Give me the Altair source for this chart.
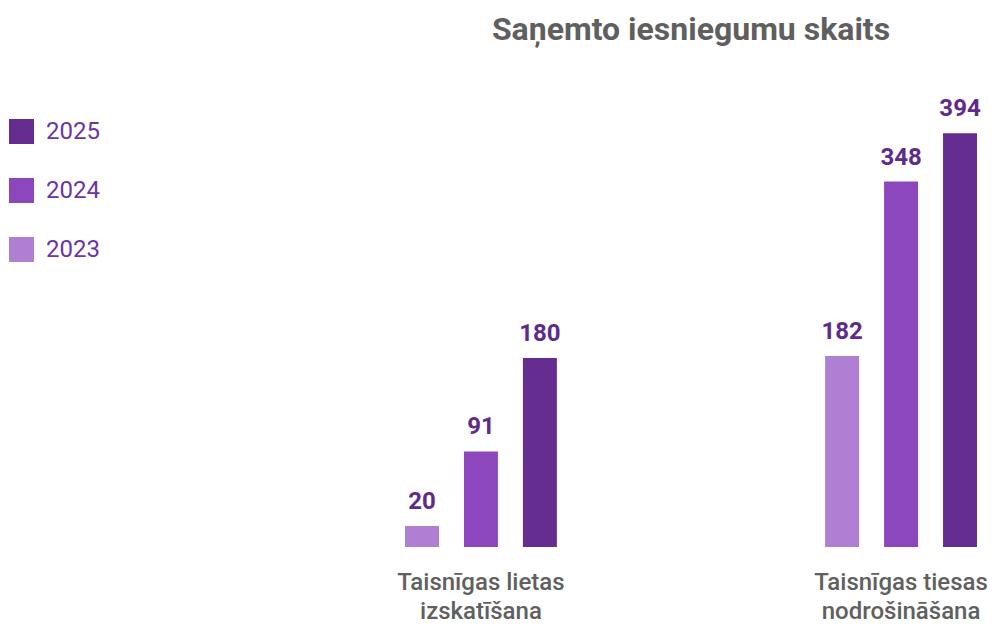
import altair as alt
import pandas as pd

categories = ["Taisnīgas lietas izskatīšana", "Taisnīgas tiesas nodrošināšana"]
category_labels = ["Taisnīgas lietas|izskatīšana", "Taisnīgas tiesas|nodrošināšana"]
years = ["2023", "2024", "2025"]
values_2023 = [20, 182]
values_2024 = [91, 348]
values_2025 = [180, 394]
colors = {"2023": "#ae7fd3", "2024": "#8b47bb", "2025": "#642d8f"}

rows = []
for yr, vals in zip(years, [values_2023, values_2024, values_2025]):
    for c, v in zip(categories, vals):
        rows.append({"category": c, "year": yr, "value": v})
df = pd.DataFrame(rows)
lab_df = pd.DataFrame({"category": categories, "label": category_labels})

FONT = "Roboto"
H = 420

x_enc = alt.X("category:N", sort=categories,
              scale=alt.Scale(paddingInner=0.6385, paddingOuter=0), axis=None)
xo_enc = alt.XOffset("year:N", sort=years,
                     scale=alt.Scale(paddingInner=0.4237, paddingOuter=0))
y_enc = alt.Y("value:Q", scale=alt.Scale(domain=[0, 400], nice=False), axis=None)

legend_order = ["2025", "2024", "2023"]
bars = alt.Chart(df).mark_bar().encode(
    x=x_enc, xOffset=xo_enc, y=y_enc,
    color=alt.Color("year:N",
                    scale=alt.Scale(domain=legend_order, range=[colors[y] for y in legend_order]),
                    legend=alt.Legend(orient="none", legendX=-396, legendY=-8, title=None,
                                      symbolType="square", symbolSize=625, symbolStrokeWidth=0,
                                      symbolOpacity=1,
                                      labelFontSize=24, labelFont=FONT, labelColor="#6c35a0",
                                      rowPadding=34, labelOffset=12, padding=0)),
)

values = alt.Chart(df).mark_text(dy=-17, baseline="alphabetic", fontSize=24, fontWeight="bold",
                                 font=FONT, color="#5e2b8d").encode(
    x=x_enc, xOffset=xo_enc, y=y_enc, text="value:Q")

cat_text = alt.Chart(lab_df).mark_text(baseline="alphabetic", lineBreak="|", lineHeight=29,
                                       fontSize=24, fontWeight=500, font=FONT, color="#606060").encode(
    x=x_enc, y=alt.value(H + 43), text="label:N")

chart = alt.layer(bars, values, cat_text).properties(
    width=572, height=H,
    title=alt.TitleParams("Saņemto iesniegumu skaits", anchor="middle", fontSize=32,
                          font=FONT, fontWeight="bold", color="#5f5f5f", offset=50),
    autosize=alt.AutoSizeParams(type="none"),
    padding={"left": 397, "top": 119, "right": 11, "bottom": 78},
).configure_view(stroke=None)

chart.save("out.html", embed_options={"renderer": "svg", "actions": False})
